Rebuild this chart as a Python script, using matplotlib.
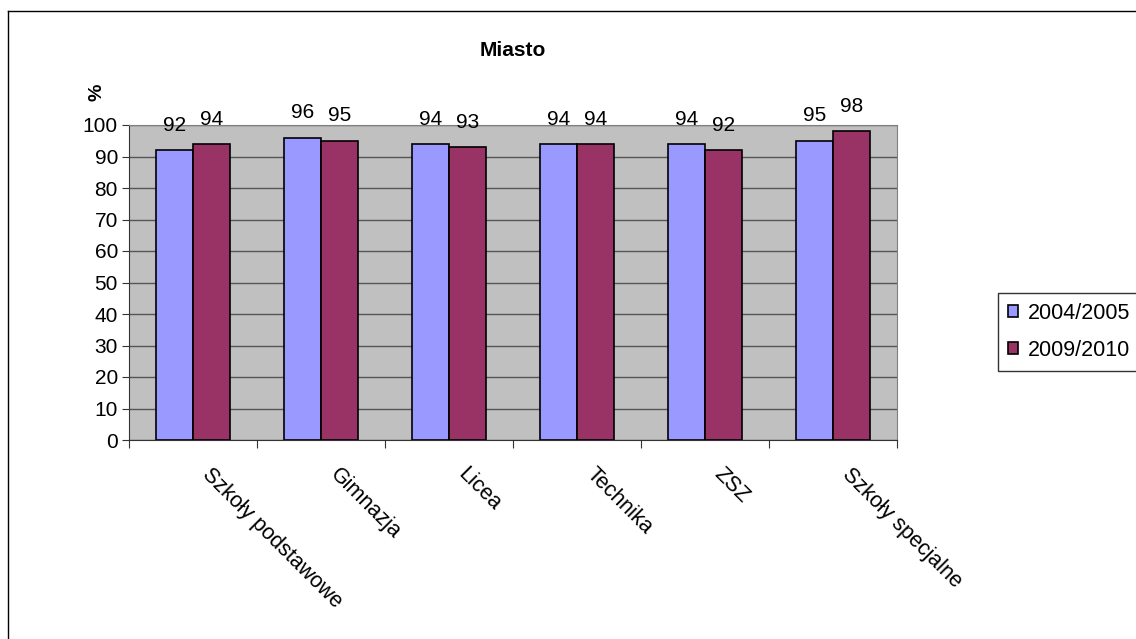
import matplotlib.pyplot as plt
import numpy as np
from matplotlib.lines import Line2D
from matplotlib.transforms import ScaledTranslation

plt.rcParams['font.family'] = ['Liberation Sans', 'DejaVu Sans']

categories = ['Szkoły podstawowe', 'Gimnazja', 'Licea', 'Technika', 'ZSZ', 'Szkoły specjalne']
series_names = ['2004/2005', '2009/2010']
values_2004 = [92, 96, 94, 94, 94, 95]
values_2009 = [94, 95, 93, 94, 92, 98]
colors = ['#9999FF', '#993366']

fig = plt.figure(figsize=(11.36, 6.39), dpi=100)
ax = fig.add_axes([129 / 1136, 1 - 440 / 639, (897 - 129) / 1136, (440 - 125) / 639])
ax.set_facecolor('#C0C0C0')

x = np.arange(len(categories))
w = 0.29
for i, (vals, name) in enumerate([(values_2004, series_names[0]), (values_2009, series_names[1])]):
    pos = x + (i - 0.5) * w
    bars = ax.bar(pos, vals, w, color=colors[i], edgecolor='black', linewidth=1.2,
                  label=name, zorder=3)
    for b, v in zip(bars, vals):
        ax.annotate(str(v), (b.get_x() + b.get_width() / 2, v), xytext=(0, 11),
                    textcoords='offset points', ha='center', va='bottom', fontsize=15,
                    annotation_clip=False)

ax.set_xlim(-0.5, len(categories) - 0.5)
ax.set_ylim(0, 100)
ax.set_yticks(range(0, 101, 10))
ax.yaxis.grid(True, color='#555555', linewidth=1, zorder=0)
ax.set_axisbelow(True)
ax.tick_params(axis='y', labelsize=15, length=5, color='#333333', pad=3)

ax.set_xticks(np.arange(len(categories) + 1) - 0.5)
ax.set_xticklabels([])
ax.tick_params(axis='x', length=6, color='#333333')

# rotated category labels, shifted like the original
shift = ScaledTranslation(20 / 100, -24 / 100, fig.dpi_scale_trans)
for xi, lab in zip(x, categories):
    ax.text(xi, 0, lab, transform=ax.get_xaxis_transform() + shift, rotation=-45,
            ha='left', va='top', rotation_mode='anchor', fontsize=15.5)

for s in ['top', 'right']:
    ax.spines[s].set_color('#808080')
for s in ['left', 'bottom']:
    ax.spines[s].set_color('#333333')

fig.text(513 / 1136, 1 - 51 / 639, 'Miasto', ha='center', va='center',
         fontsize=15, fontweight='bold')
fig.text(97 / 1136, 1 - 92 / 639, '%', ha='center', va='center', rotation=90,
         fontsize=14, fontweight='bold')

leg = fig.legend(loc='upper left', bbox_to_anchor=(998 / 1136, 1 - 293 / 639),
                 fontsize=15.5, frameon=True, fancybox=False, edgecolor='black',
                 handlelength=0.5, handleheight=0.5, handletextpad=0.45,
                 borderpad=0.45, labelspacing=0.75, borderaxespad=0)
leg.get_frame().set_linewidth(1)

fig.add_artist(Line2D([8 / 1136, 8 / 1136], [0, 1 - 11 / 639], color='black', lw=1))
fig.add_artist(Line2D([8 / 1136, 1], [1 - 11 / 639, 1 - 11 / 639], color='black', lw=1))

fig.savefig('out.png', dpi=100)
